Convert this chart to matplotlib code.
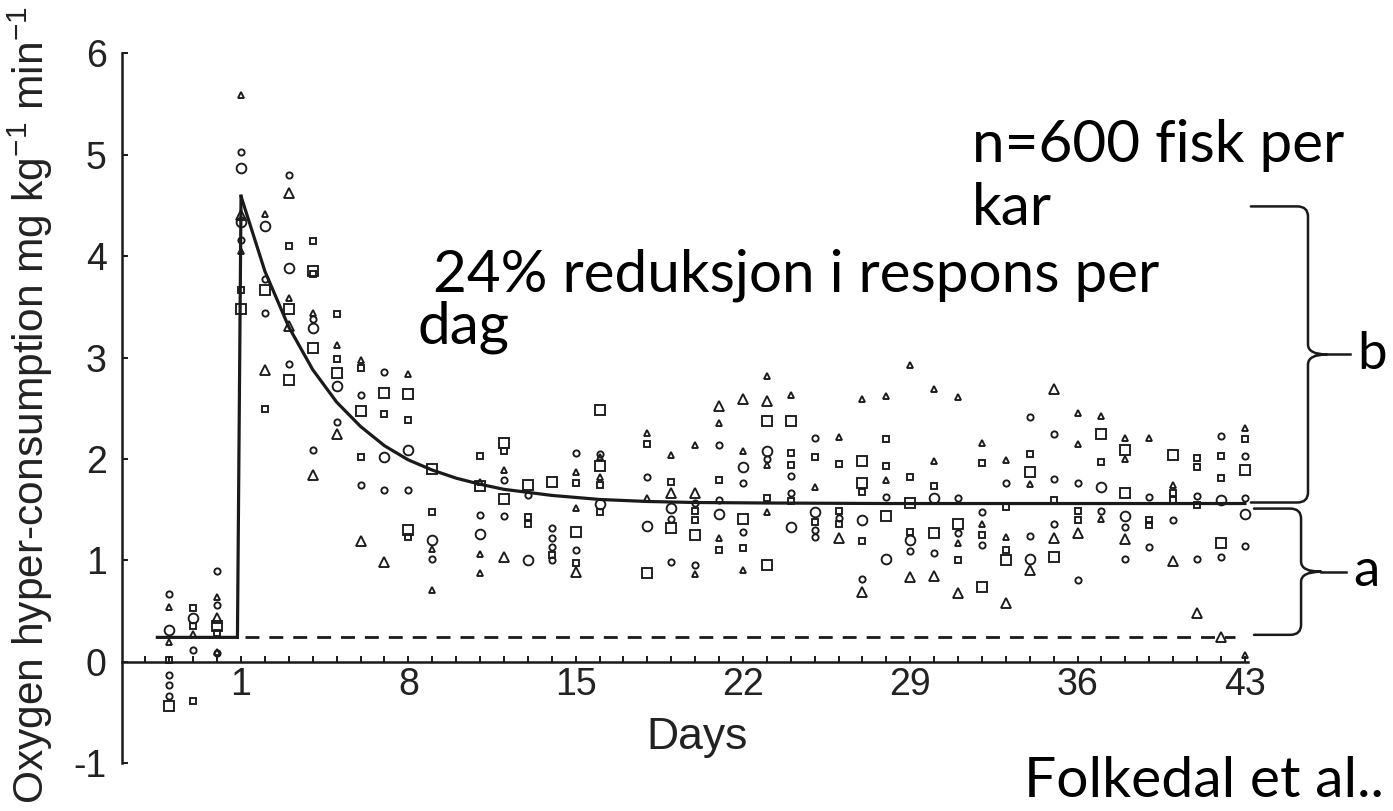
import matplotlib
matplotlib.use('Agg')
import matplotlib.pyplot as plt
from matplotlib.path import Path
from matplotlib.patches import PathPatch

# ---------------- data ----------------
small_circle_days = [-2, -2, -2, -2, -1, 0, 0, 0, 1, 1, 2, 2, 3, 3, 4, 4, 5, 6, 6, 7, 7, 8, 9, 11,
                     12, 12, 13, 14, 14, 14, 14, 15, 15, 16, 18, 19, 19, 20, 20, 21, 21, 22, 22, 23,
                     24, 24, 25, 25, 25, 26, 27, 28, 29, 30, 31, 31, 32, 32, 33, 34, 34, 35, 35, 35,
                     36, 36, 37, 38, 38, 39, 39, 40, 41, 41, 42, 42, 43, 43, 43]
small_circle_vals = [0.67, -0.13, -0.23, -0.34, 0.12, 0.89, 0.56, 0.09, 5.03, 4.16, 3.77, 3.44, 4.80, 2.94,
                     2.09, 3.38, 2.36, 2.63, 1.74, 2.86, 1.69, 1.69, 1.01, 1.45, 1.79, 1.44, 1.64, 1.32,
                     1.22, 1.13, 1.00, 2.06, 1.10, 2.05, 1.82, 1.41, 0.98, 1.57, 0.95, 2.14, 1.59, 1.76,
                     1.28, 2.00, 1.83, 1.66, 2.21, 1.30, 1.23, 1.42, 0.82, 1.62, 1.09, 1.07, 1.61, 1.27,
                     1.48, 1.15, 1.76, 2.41, 1.24, 2.25, 1.80, 1.36, 1.76, 0.81, 1.49, 1.33, 1.01, 1.62,
                     1.13, 1.40, 1.63, 1.01, 2.23, 1.03, 2.03, 1.61, 1.14]

large_circle_days = [-2, -1, 1, 1, 2, 3, 4, 5, 7, 8, 9, 11, 13, 16, 18, 19, 21, 22, 23, 24, 25, 27,
                     28, 29, 30, 34, 37, 38, 42, 43]
large_circle_vals = [0.31, 0.43, 4.87, 4.34, 4.30, 3.88, 3.29, 2.72, 2.02, 2.09, 1.20, 1.26, 1.00, 1.56,
                     1.34, 1.52, 1.46, 1.92, 2.08, 1.33, 1.48, 1.40, 1.01, 1.20, 1.61, 1.01, 1.72, 1.44,
                     1.59, 1.46]

small_square_days = [-2, -1, -1, -1, 0, 1, 2, 3, 4, 4, 5, 5, 6, 6, 7, 8, 8, 9, 11, 12, 13, 13, 14, 15,
                     15, 16, 16, 18, 19, 20, 20, 21, 21, 22, 23, 24, 24, 24, 25, 25, 26, 26, 26, 27,
                     27, 28, 28, 29, 29, 30, 31, 32, 32, 33, 33, 34, 35, 36, 36, 37, 39, 39, 40, 40,
                     41, 41, 41, 42, 42, 43]
small_square_vals = [0.02, 0.53, 0.35, -0.39, 0.28, 3.67, 2.49, 4.10, 4.15, 3.82, 3.43, 2.99, 2.90, 2.02,
                     2.44, 2.38, 1.23, 1.48, 2.03, 2.08, 1.43, 1.36, 1.05, 1.76, 0.97, 1.74, 1.48, 2.15,
                     1.77, 1.49, 1.40, 1.79, 1.10, 1.12, 1.61, 2.06, 1.94, 1.58, 2.02, 1.38, 1.95, 1.49,
                     1.36, 1.67, 1.19, 2.20, 1.93, 1.82, 1.28, 1.73, 1.00, 1.96, 1.25, 1.53, 1.10, 2.05,
                     1.59, 1.49, 1.40, 1.97, 1.40, 1.35, 1.66, 1.59, 2.01, 1.92, 1.55, 2.03, 1.81, 2.20]

large_square_days = [-2, 0, 1, 2, 3, 3, 4, 4, 5, 6, 7, 8, 8, 9, 11, 12, 12, 13, 14, 15, 16, 16, 18,
                     19, 20, 22, 23, 23, 24, 27, 27, 28, 29, 30, 31, 32, 33, 34, 35, 37, 38, 38, 40,
                     42, 43]
large_square_vals = [-0.44, 0.35, 3.48, 3.67, 3.48, 2.78, 3.85, 3.09, 2.85, 2.47, 2.65, 2.64, 1.30, 1.90,
                     1.73, 2.16, 1.60, 1.74, 1.77, 1.28, 2.48, 1.93, 0.87, 1.32, 1.25, 1.41, 2.37, 0.95,
                     2.37, 1.98, 1.76, 1.44, 1.57, 1.27, 1.36, 0.74, 1.00, 1.87, 1.03, 2.25, 2.09, 1.66,
                     2.04, 1.17, 1.89]

small_triangle_days = [-2, -2, -1, 0, 0, 1, 1, 2, 3, 4, 5, 6, 8, 9, 9, 11, 11, 11, 12, 15, 15, 16, 16,
                       18, 18, 19, 20, 20, 21, 21, 22, 22, 23, 23, 23, 24, 25, 26, 27, 28, 28, 29, 30,
                       30, 31, 31, 32, 32, 33, 33, 34, 36, 36, 37, 37, 38, 38, 39, 40, 43, 43]
small_triangle_vals = [0.54, 0.19, 0.27, 0.64, 0.10, 5.59, 4.05, 4.42, 3.59, 3.44, 3.12, 2.98, 2.84, 1.11,
                       0.71, 1.77, 1.06, 0.87, 1.89, 1.87, 1.52, 2.02, 1.82, 2.26, 1.61, 2.04, 2.14, 0.86,
                       2.35, 1.22, 2.08, 0.90, 2.82, 1.94, 1.48, 2.63, 1.72, 2.22, 2.59, 2.62, 1.79, 2.93,
                       2.69, 1.98, 2.61, 1.17, 2.16, 1.36, 1.99, 1.23, 1.75, 2.45, 2.15, 2.42, 1.41, 2.21,
                       2.00, 2.21, 1.74, 2.30, 0.07]

large_triangle_days = [0, 1, 2, 3, 3, 4, 5, 6, 7, 12, 15, 19, 20, 21, 22, 23, 26, 27, 29, 30, 31, 33,
                       34, 35, 35, 36, 38, 40, 41, 42]
large_triangle_vals = [0.43, 4.41, 2.88, 4.62, 3.31, 1.84, 2.25, 1.19, 0.98, 1.03, 0.88, 1.66, 1.66, 2.52,
                       2.59, 2.57, 1.22, 0.69, 0.84, 0.85, 0.68, 0.58, 0.90, 2.69, 1.22, 1.27, 1.21, 0.99,
                       0.48, 0.24]

# fitted response curve
fit_days = [1, 2, 3, 4, 5, 6, 7, 8, 9, 10, 11, 12, 13, 14, 15, 16, 18, 20, 23, 28, 43]
fit_vals = [4.59, 3.85, 3.30, 2.88, 2.56, 2.32, 2.13, 1.99, 1.89, 1.81, 1.75, 1.70, 1.67, 1.64, 1.62,
            1.60, 1.58, 1.57, 1.565, 1.56, 1.56]
# pre-stress baseline (solid) and its extension (dashed)
base_days = [-2.5, 0.85, 1.0]
base_vals = [0.24, 0.24, 4.59]
dash_days = [1.15, 42.6]
dash_vals = [0.24, 0.24]

x_major = [1, 8, 15, 22, 29, 36, 43]
x_minor = list(range(-3, 44))
y_ticks = [-1, 0, 1, 2, 3, 4, 5, 6]

# braces: (level_bottom, level_top, label)
brace_b = (1.57, 4.49, 'b')
brace_a = (0.265, 1.51, 'a')

# ---------------- styling ----------------
plt.rcParams['font.family'] = ['Liberation Sans', 'DejaVu Sans']
plt.rcParams['mathtext.fontset'] = 'custom'
plt.rcParams['mathtext.rm'] = 'Liberation Sans'
plt.rcParams['mathtext.it'] = 'Liberation Sans:italic'
plt.rcParams['mathtext.bf'] = 'Liberation Sans:bold'
plt.rcParams['axes.unicode_minus'] = False

W, H = 1393, 811
fig = plt.figure(figsize=(W / 100, H / 100), dpi=100)
fig.patch.set_facecolor('white')
ax = fig.add_axes([122 / W, 1 - 763.1 / H, 1126 / W, 709.8 / H])
ax.set_xlim(-3.98, 43.13)
ax.set_ylim(-1, 6)

ink = '#1a1a1a'
for side in ('top', 'right'):
    ax.spines[side].set_visible(False)
ax.spines['bottom'].set_position(('data', 0))
for side in ('left', 'bottom'):
    ax.spines[side].set_linewidth(1.8)
    ax.spines[side].set_color(ink)

ax.set_xticks(x_major)
ax.set_xticklabels([str(v) for v in x_major])
ax.set_xticks(x_minor, minor=True)
ax.set_yticks(y_ticks)
ax.set_yticklabels([str(v) for v in y_ticks])
ax.tick_params(axis='x', which='both', direction='in', length=4.5, width=1.4, color=ink,
               pad=4, labelsize=27, labelcolor='#222222')
ax.tick_params(axis='y', which='both', direction='in', length=4.5, width=1.4, color=ink,
               pad=11, labelsize=27, labelcolor='#222222')

ax.set_xlabel('Days', fontsize=32, color='#222222', va='center')
ax.xaxis.set_label_coords((697 - 122) / 1126, (763.1 - 738) / 709.8)
ax.set_ylabel('Oxygen hyper-consumption mg kg$^{-1}$ min$^{-1}$', fontsize=30.6,
              color='#222222', va='center', ha='center')
ax.yaxis.set_label_coords((30 - 122) / 1126, (763.1 - 405) / 709.8)

mk = dict(ls='none', mfc='none', mec=ink, mew=1.35, clip_on=False, zorder=3)
ax.plot(small_circle_days, small_circle_vals, marker='o', ms=4.5, **mk)
ax.plot(large_circle_days, large_circle_vals, marker='o', ms=7.0, **mk)
ax.plot(small_square_days, small_square_vals, marker='s', ms=4.3, **mk)
ax.plot(large_square_days, large_square_vals, marker='s', ms=7.0, **mk)
ax.plot(small_triangle_days, small_triangle_vals, marker='^', ms=4.6, **mk)
ax.plot(large_triangle_days, large_triangle_vals, marker='^', ms=7.4, **mk)

ax.plot(base_days, base_vals, color=ink, lw=2.3, zorder=4, solid_joinstyle='miter')
ax.plot(fit_days, fit_vals, color=ink, lw=2.3, zorder=4, solid_joinstyle='round')
ax.plot(dash_days, dash_vals, color=ink, lw=2.0, ls=(0, (5, 3.6)), zorder=4)


def brace(y0, y1, label, x_arm, x_v, x_tip, x_end, x_text):
    rx, ry = 0.45, 0.1
    ym = 0.5 * (y0 + y1)
    verts = [(x_arm, y1), (x_v - rx, y1), (x_v, y1), (x_v, y1 - ry),
             (x_v, ym + ry), (x_v, ym), (x_tip, ym),
             (x_v, ym), (x_v, ym - ry),
             (x_v, y0 + ry), (x_v, y0), (x_v - rx, y0), (x_arm, y0)]
    codes = [Path.MOVETO, Path.LINETO, Path.CURVE3, Path.CURVE3,
             Path.LINETO, Path.CURVE3, Path.CURVE3,
             Path.CURVE3, Path.CURVE3,
             Path.LINETO, Path.CURVE3, Path.CURVE3, Path.LINETO]
    ax.add_patch(PathPatch(Path(verts, codes), fill=False, lw=1.8, ec=ink,
                           clip_on=False, zorder=5, capstyle='round', joinstyle='round'))
    ax.plot([x_tip, x_end], [ym, ym], color=ink, lw=1.8, clip_on=False, zorder=5)
    ax.text(x_text, ym, label, fontsize=38, family='Lato', va='center', ha='left',
            color='black', clip_on=False)


brace(brace_b[0], brace_b[1], brace_b[2], 43.25, 45.64, 46.43, 47.4, 47.7)
brace(brace_a[0], brace_a[1], brace_a[2], 43.38, 45.35, 46.19, 47.25, 47.55)

txt = dict(fontsize=42, family=['Lato', 'DejaVu Sans'], color='black', ha='left', va='baseline')
fig.text(972 / W, 1 - 162 / H, 'n=600 fisk per', **txt)
fig.text(972 / W, 1 - 225 / H, 'kar', **txt)
fig.text(418 / W, 1 - 291 / H, ' 24% reduksjon i respons per', **txt)
fig.text(418 / W, 1 - 343 / H, 'dag', **txt)
fig.text(1024 / W, 1 - 797 / H, 'Folkedal et al..', fontsize=41,
         family=['Lato', 'DejaVu Sans'], color='black', ha='left', va='baseline')

fig.savefig('out.png', dpi=100, facecolor='white')
